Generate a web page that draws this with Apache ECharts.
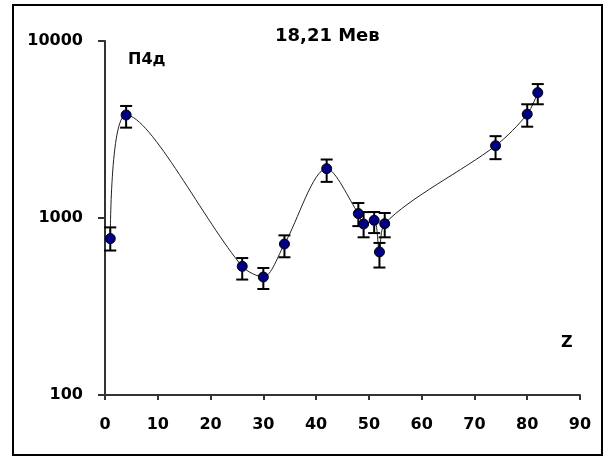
<!DOCTYPE html>
<html>
<head>
<meta charset="utf-8">
<script src="https://cdn.jsdelivr.net/npm/echarts@6/dist/echarts.min.js"></script>
<style>html,body{margin:0;padding:0;background:#fff}#c{width:607px;height:457px}</style>
</head>
<body>
<div id="c"></div>
<script>
// Data
var zValues   = [1,   4,    26,  30,  34,  42,   48,   49,  51,  52,  53,  74,   80,   82];
var yields    = [765, 3820, 533, 464, 713, 1900, 1059, 925, 970, 643, 929, 2560, 3860, 5110];
var errLow    = [655, 3240, 449, 397, 600, 1600, 900,  778, 822, 525, 778, 2150, 3280, 4390];
var errHigh   = [885, 4295, 594, 522, 798, 2140, 1215, 1080, 1081, 723, 1067, 2900, 4390, 5710];
var xTicks    = [0, 10, 20, 30, 40, 50, 60, 70, 80, 90];
var yTicks    = [100, 1000, 10000];
var titleText = '18,21 Мев';
var labelText = 'П4д';
var axisText  = 'Z';

var pts = zValues.map(function (z, i) { return [z, yields[i]]; });
var errs = zValues.map(function (z, i) { return [z, errLow[i], errHigh[i]]; });
var FONT = 'DejaVu Sans';

var chart = echarts.init(document.getElementById('c'), null, {renderer: 'canvas'});
chart.setOption({
  backgroundColor: '#fff',
  animation: false,
  grid: {left: 105, right: 27, top: 41, bottom: 62},
  graphic: [
    {type: 'rect', shape: {x: 13, y: 5, width: 589, height: 450}, style: {fill: 'none', stroke: '#000', lineWidth: 2}, z: 100},
    {type: 'text', left: 275, top: 27, style: {text: titleText, font: 'bold 18px "' + FONT + '"', fill: '#000'}},
    {type: 'text', left: 128, top: 52, style: {text: labelText, font: 'bold 16px "' + FONT + '"', fill: '#000'}},
    {type: 'text', left: 561, top: 335, style: {text: axisText, font: 'bold 16px "' + FONT + '"', fill: '#000'}}
  ],
  xAxis: {
    type: 'value', min: xTicks[0], max: xTicks[xTicks.length - 1], interval: 10,
    axisLine: {lineStyle: {color: '#333', width: 2}},
    axisTick: {show: true, length: 5, lineStyle: {color: '#333', width: 2}},
    axisLabel: {margin: 22, color: '#000', fontFamily: FONT, fontWeight: 'bold', fontSize: 16},
    splitLine: {show: false}
  },
  yAxis: {
    type: 'log', logBase: 10, min: yTicks[0], max: yTicks[yTicks.length - 1],
    axisLine: {show: true, lineStyle: {color: '#333', width: 2}},
    axisTick: {show: true, length: 7, lineStyle: {color: '#333', width: 2}},
    axisLabel: {margin: 22, color: '#000', fontFamily: FONT, fontWeight: 'bold', fontSize: 16,
      formatter: function (v) { return String(Math.round(v)); }},
    splitLine: {show: false},
    minorTick: {show: false}
  },
  series: [
    {
      type: 'line', data: pts, smooth: 0.3, showSymbol: false, symbol: 'none',
      lineStyle: {color: '#222', width: 1}, z: 2
    },
    {
      type: 'custom', data: errs, z: 3,
      renderItem: function (params, api) {
        var x = api.value(0);
        var lo = api.coord([x, api.value(1)]);
        var hi = api.coord([x, api.value(2)]);
        var hw = 6;
        var st = {stroke: '#000', lineWidth: 2};
        return {
          type: 'group',
          children: [
            {type: 'line', shape: {x1: lo[0], y1: lo[1], x2: hi[0], y2: hi[1]}, style: st},
            {type: 'line', shape: {x1: lo[0] - hw, y1: lo[1], x2: lo[0] + hw, y2: lo[1]}, style: st},
            {type: 'line', shape: {x1: hi[0] - hw, y1: hi[1], x2: hi[0] + hw, y2: hi[1]}, style: st}
          ]
        };
      }
    },
    {
      type: 'scatter', data: pts, symbol: 'circle', symbolSize: 10, z: 4,
      itemStyle: {color: '#000080', borderColor: '#000', borderWidth: 1, opacity: 1}
    }
  ]
});
</script>
</body>
</html>
